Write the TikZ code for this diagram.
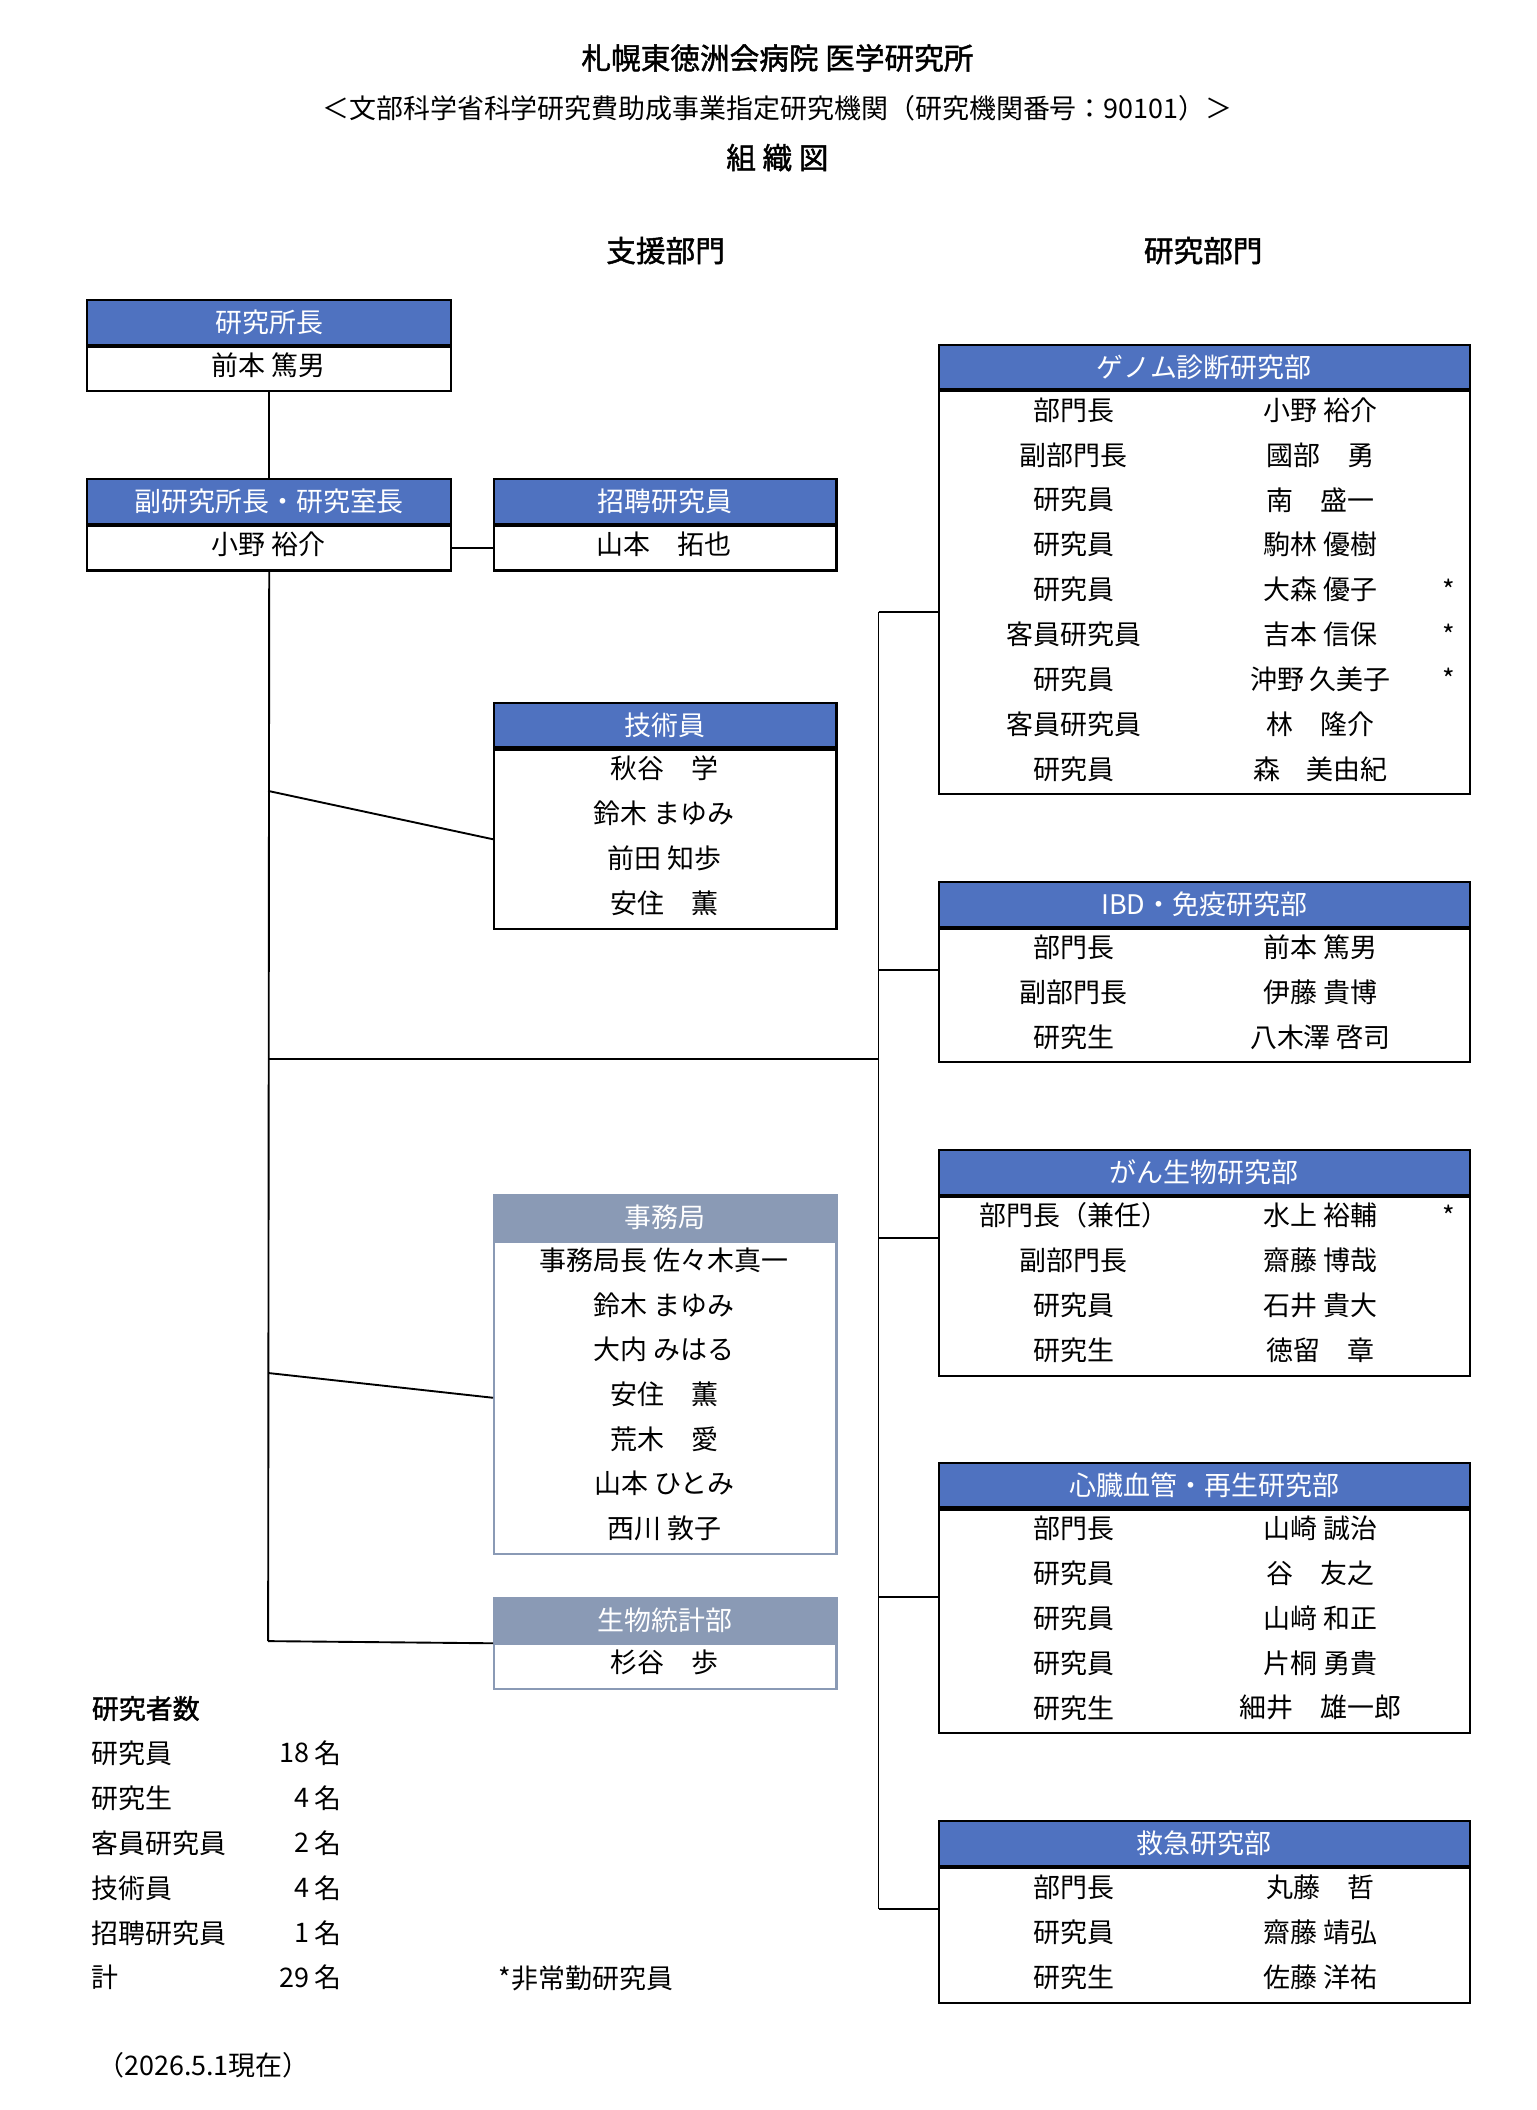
\documentclass[tikz,border=0pt]{standalone}
\usepackage{fontspec}
\setmainfont{Noto Sans CJK JP}
\newfontfamily\bfj{Noto Sans CJK JP}[FakeBold=1.5]
\definecolor{hblue}{RGB}{79,114,192}
\definecolor{hgray}{RGB}{138,154,181}
\tikzset{
 hdr/.style={anchor=north west,inner sep=0,minimum height=33,text=white,font=\fontsize{20}{22}\selectfont,draw=black,line width=1.6pt},
 bdy/.style={anchor=north,inner sep=0,draw=black,line width=1.6pt},
 txt/.style={inner sep=0,font=\fontsize{20}{22}\selectfont},
 ln/.style={line width=1.4pt}
}
\newcommand\obox[7]{% name, x, w, ytop, bodyheight, color, title
 \node[hdr,fill=#6,minimum width=#3] (#1) at (#2,#4) {#7};
 \node[bdy,minimum width=#3,minimum height=#5] (#1b) at (#1.south) {};
}
\begin{document}
\begin{tikzpicture}[x=1pt,y=-1pt]
\useasboundingbox (0,0) rectangle (1140,1566);
\node[txt,font=\fontsize{22}{24}\selectfont\bfj] (t1) at (577,43) {札幌東徳洲会病院 医学研究所};
\node[txt] (t2) at (577,80) {＜文部科学省科学研究費助成事業指定研究機関（研究機関番号：90101）＞};
\node[txt,font=\fontsize{22}{24}\selectfont\bfj] (t3) at (577,117) {組 織 図};
\node[txt,font=\fontsize{22}{24}\selectfont\bfj] (s1) at (494,186) {支援部門};
\node[txt,font=\fontsize{22}{24}\selectfont\bfj] (s2) at (893,186) {研究部門};
% left boxes
\obox{dir}{64}{270}{222}{33}{hblue}{研究所長}
\node[txt] at (199,271) {前本 篤男};
\obox{vdir}{64}{270}{355}{33}{hblue}{副研究所長・研究室長}
\node[txt] at (199,404) {小野 裕介};
\obox{inv}{366}{254}{355}{33}{hblue}{招聘研究員}
\node[txt] at (493,404) {山本\quad 拓也};
\obox{tech}{366}{254}{521}{133}{hblue}{技術員}
\foreach \t [count=\i] in {秋谷\quad 学,鈴木 まゆみ,前田 知歩,安住\quad 薫}
 \node[txt] at (493,537+\i*33.3) {\t};
\tikzset{hdr/.append style={draw=hgray},bdy/.append style={draw=hgray}}
\obox{off}{366}{254}{886}{232}{hgray}{事務局}
\foreach \t [count=\i] in {事務局長\ 佐々木真一,鈴木 まゆみ,大内 みはる,安住\quad 薫,荒木\quad 愛,山本 ひとみ,西川 敦子}
 \node[txt] at (493,902+\i*33.2) {\t};
\obox{bio}{366}{254}{1185}{33}{hgray}{生物統計部}
\node[txt] at (493,1234) {杉谷\quad 歩};
\tikzset{hdr/.append style={draw=black},bdy/.append style={draw=black}}
% right boxes
\obox{g}{696}{394}{255}{299}{hblue}{ゲノム診断研究部}
\foreach \r/\n/\s [count=\i] in {部門長/小野 裕介/,副部門長/國部\quad 勇/,研究員/南\quad 盛一/,研究員/駒林 優樹/,研究員/大森 優子/*,客員研究員/吉本 信保/*,研究員/沖野 久美子/*,客員研究員/林\quad 隆介/,研究員/森\quad 美由紀/}
 {\node[txt] at (797,271+\i*33.3) {\r}; \node[txt] at (980,271+\i*33.3) {\n}; \node[txt] at (1075,271+\i*33.3) {\s};}
\obox{ibd}{696}{394}{654}{99}{hblue}{IBD・免疫研究部}
\foreach \r/\n [count=\i] in {部門長/前本 篤男,副部門長/伊藤 貴博,研究生/八木澤 啓司}
 {\node[txt] at (797,670+\i*33.3) {\r}; \node[txt] at (980,670+\i*33.3) {\n};}
\obox{can}{696}{394}{853}{133}{hblue}{がん生物研究部}
\foreach \r/\n/\s [count=\i] in {部門長（兼任）/水上 裕輔/*,副部門長/齋藤 博哉/,研究員/石井 貴大/,研究生/徳留\quad 章/}
 {\node[txt] at (797,869+\i*33.2) {\r}; \node[txt] at (980,869+\i*33.2) {\n}; \node[txt] at (1075,869+\i*33.2) {\s};}
\obox{hrt}{696}{394}{1085}{166}{hblue}{心臓血管・再生研究部}
\foreach \r/\n [count=\i] in {部門長/山崎 誠治,研究員/谷\quad 友之,研究員/山﨑 和正,研究員/片桐 勇貴,研究生/細井\quad 雄一郎}
 {\node[txt] at (797,1101+\i*33.3) {\r}; \node[txt] at (980,1101+\i*33.3) {\n};}
\obox{emg}{696}{394}{1351}{100}{hblue}{救急研究部}
\foreach \r/\n [count=\i] in {部門長/丸藤\quad 哲,研究員/齋藤 靖弘,研究生/佐藤 洋祐}
 {\node[txt] at (797,1367+\i*33.4) {\r}; \node[txt] at (980,1367+\i*33.4) {\n};}
% connectors
\coordinate (lt) at (199,1218);
\coordinate (rt) at (652,454);
\coordinate (rb) at (652,1417);
\draw[ln] (dirb.south) -- (vdir.north);
\draw[ln] (vdirb.south) -- (lt);
\draw[ln] (vdirb.east) -- (invb.west);
\draw[ln] (199,587) -- (techb.west);
\draw[ln] (199,1019) -- (offb.west);
\draw[ln] (lt) -- (bio.south west);
\draw[ln] (199,786) -- (652,786);
\draw[ln] (rt) -- (rb);
\draw[ln] (rt) -- (gb.west |- rt);
\draw[ln] (652,720) -- (ibdb.west |- 0,720);
\draw[ln] (652,919) -- (canb.west |- 0,919);
\draw[ln] (652,1185) -- (hrtb.west |- 0,1185);
\draw[ln] (rb) -- (emgb.west |- rb);
% stats
\node[txt,anchor=west,font=\fontsize{20}{22}\selectfont\bfj] (st) at (68,1268) {研究者数};
\foreach \a/\b [count=\i] in {研究員/18,研究生/4,客員研究員/2,技術員/4,招聘研究員/1,計/29}
 {\node[txt,anchor=west] at (68,1268+\i*33.3) {\a}; \node[txt,anchor=east] at (230,1268+\i*33.3) {\b}; \node[txt,anchor=west] at (233,1268+\i*33.3) {名};}
\node[txt,anchor=west] (nt) at (370,1468) {*非常勤研究員};
\node[txt,anchor=west] (dt) at (72,1533) {（2026.5.1現在）};
\end{tikzpicture}
\end{document}
